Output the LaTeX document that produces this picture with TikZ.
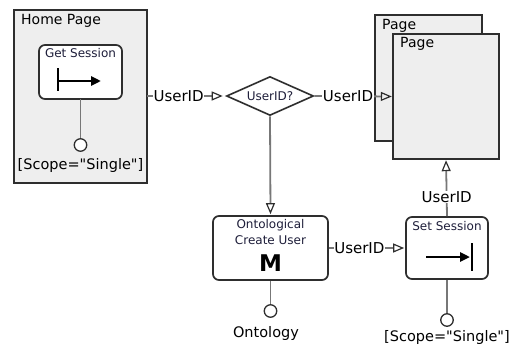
\documentclass[tikz,border=0pt]{standalone}
\usepackage{fontspec}
\setmainfont{DejaVu Sans}[Ligatures=TeXOff]
\usetikzlibrary{arrows.meta,shapes.geometric}
\definecolor{pagefill}{HTML}{EEEEEE}
\definecolor{edge}{HTML}{2E2E2E}
\definecolor{wire}{HTML}{777777}
\definecolor{titletext}{HTML}{1E1E3A}
\tikzset{
  pagebox/.style={draw=edge, line width=1.6pt, fill=pagefill},
  opbox/.style={draw=edge, line width=1.7pt, fill=white, rounded corners=6pt},
  wireline/.style={draw=wire, line width=1.8pt},
  flow/.style={wireline, -{Triangle[open, length=11pt, width=9pt, line width=1.2pt, color=edge]}},
  lbl/.style={font=\fontsize{15}{17}\selectfont, fill=white, inner sep=0.5pt},
  outlbl/.style={font=\fontsize{14.5}{17}\selectfont, inner sep=0pt},
  ttl/.style={font=\fontsize{12}{14}\selectfont, text=titletext, inner sep=0pt},
  pagettl/.style={font=\fontsize{14}{16}\selectfont, anchor=west, inner sep=0pt},
  port/.style={circle, draw=edge, line width=1.3pt, fill=white, minimum size=12.5pt, inner sep=0pt},
  glyph/.style={line width=2.5pt, draw=black},
}
\begin{document}
\begin{tikzpicture}[x=1pt, y=-1pt]
\useasboundingbox (0,0) rectangle (513,345);

% Home page with the Get Session operation
\draw[pagebox] (14,10) rectangle (147,183);
\node (homebox) at (80.5,96.5) [minimum width=133pt, minimum height=173pt, inner sep=0pt] {};
\node[pagettl] (hometitle) at (21,21) {Home Page};
\draw[opbox] (39,45) rectangle (122,99);
\node (getsess) at (80.5,72) [minimum width=83pt, minimum height=54pt, inner sep=0pt] {};
\node[ttl] (gettitle) at (80.5,53) {Get Session};
\coordinate (gbar1) at (58,68);
\coordinate (gbar2) at (58,91);
\coordinate (garr1) at (58,81);
\coordinate (garr2) at (101,81);
\draw[glyph] (gbar1) -- (gbar2);
\draw[glyph, -{Triangle[length=10pt, width=9pt]}] (garr1) -- (garr2);
\node[port] (getport) at (80.5,145) {};
\draw[wireline] (getsess.south) -- (getport.north);
\node[outlbl] (getscope) at (80.5,165) {[Scope="Single"]};

% Decision
\node[diamond, draw=edge, line width=1.6pt, fill=white, minimum width=87pt, minimum height=39pt, inner sep=0pt, aspect=2.2] (decide) at (270,96) {};
\node[ttl] (decidetxt) at (270,96.5) {UserID?};

% Target pages
\draw[pagebox] (375,15) rectangle (482,141);
\node[pagettl] (backtitle) at (382,26) {Page};
\draw[pagebox] (393,34) rectangle (499,159);
\node (frontpage) at (446,96.5) [minimum width=106pt, minimum height=125pt, inner sep=0pt] {};
\node[pagettl] (fronttitle) at (400,44) {Page};

% Ontological Create User
\node[opbox, minimum width=115pt, minimum height=64pt, inner sep=0pt] (create) at (270.5,248) {};
\node[ttl] (createt1) at (270.5,225) {Ontological};
\node[ttl] (createt2) at (270.5,240) {Create User};
\node[font=\fontsize{23}{25}\selectfont\bfseries, inner sep=0pt] (createm) at (270.5,263) {M};
\node[port] (createport) at (270.5,311) {};
\draw[wireline] (create.south) -- (createport.north);
\node[outlbl] (ontology) at (266,333) {Ontology};

% Set Session
\node[opbox, minimum width=82pt, minimum height=62pt, inner sep=0pt] (setsess) at (447,248) {};
\node[ttl] (settitle) at (447,226) {Set Session};
\coordinate (sarr1) at (426,257);
\coordinate (sarr2) at (470,257);
\coordinate (sbar1) at (472,243);
\coordinate (sbar2) at (472,271);
\draw[glyph, -{Triangle[length=10pt, width=9pt]}] (sarr1) -- (sarr2);
\draw[glyph] (sbar1) -- (sbar2);
\node[port] (setport) at (447,320) {};
\draw[wireline] (setsess.south) -- (setport.north);
\node[outlbl] (setscope) at (447,337) {[Scope="Single"]};

% Data flows
\draw[flow, shorten >=3pt] (homebox.east |- decide.west) -- (decide.west)
  node[lbl, pos=0.4] (l1) {UserID};
\draw[flow, shorten >=1pt] (decide.east) -- (frontpage.west)
  node[lbl, pos=0.43] (l2) {UserID};
\draw[flow, shorten >=1pt] (decide.south) -- (create.north);
\draw[flow, shorten >=1pt] (create.east) -- (setsess.west)
  node[lbl, pos=0.4] (l3) {UserID};
\draw[flow, shorten >=1pt] (setsess.north) -- (frontpage.south)
  node[lbl, pos=0.34] (l4) {UserID};
\end{tikzpicture}
\end{document}
